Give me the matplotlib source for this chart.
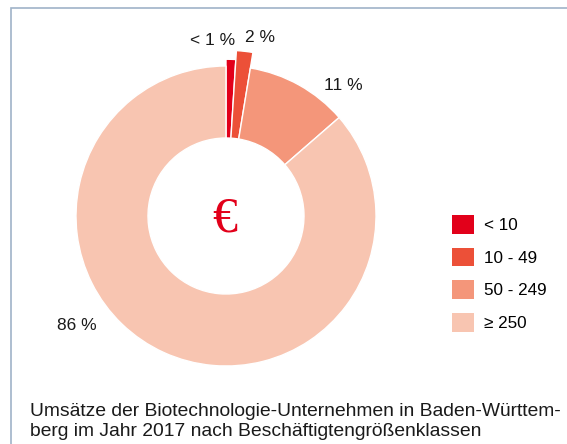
import matplotlib.pyplot as plt
from matplotlib.patches import Patch, Rectangle

# Umsatzanteile nach Beschäftigtengrößenklassen (%)
classes = ['< 10', '10 - 49', '50 - 249', '≥ 250']
shares = [1.0, 1.6, 11.0, 86.4]
share_labels = ['< 1 %', '2 %', '11 %', '86 %']
colors = ['#e2001a', '#ec5038', '#f4967a', '#f8c5b1']

caption = ('Umsätze der Biotechnologie-Unternehmen in Baden-Württem-\n'
           'berg im Jahr 2017 nach Beschäftigtengrößenklassen')

plt.rcParams['font.family'] = ['Liberation Sans', 'DejaVu Sans']

fig = plt.figure(figsize=(5.67, 4.44), dpi=100)

# frame line (left + top)
fig.patches.append(Rectangle((11 / 567, -0.1), 1.2, (444 - 8) / 444 + 0.1,
                             transform=fig.transFigure, fill=False,
                             edgecolor='#9fb3c8', linewidth=1.2))

ax = fig.add_axes([46 / 567, 48 / 444, 360 / 567, 360 / 444])
wedges, _ = ax.pie(shares, colors=colors, startangle=90, counterclock=False,
                   wedgeprops=dict(width=0.48, edgecolor='white', linewidth=1.0))
# the two small classes stick out a bit
inner = 0.52
for w, r in zip(wedges, [1.045, 1.105, 1.0, 1.0]):
    w.set_radius(r)
    w.set_width(r - inner)
ax.set_xlim(-1.2, 1.2)
ax.set_ylim(-1.2, 1.2)
ax.set_aspect('equal')
ax.axis('off')

label_pos = [(-0.087, 1.167), (0.227, 1.193), (0.78, 0.873), (-0.993, -0.733)]
for (x, y), t in zip(label_pos, share_labels):
    ax.text(x, y, t, ha='center', va='center', fontsize=12.5, color='#1a1a1a')

ax.text(-0.01, -0.02, '€', ha='center', va='center', fontsize=36, color='#e2001a',
        family=['Liberation Serif', 'DejaVu Serif'])

handles = [Patch(facecolor=c, edgecolor='none') for c in colors]
fig.legend(handles, classes, loc='upper left',
           bbox_to_anchor=(452 / 567, (444 - 215) / 444),
           frameon=False, fontsize=12.3, handlelength=1.3, handleheight=1.3,
           labelspacing=0.82, handletextpad=0.55, borderpad=0, borderaxespad=0)

fig.text(30 / 567, (444 - 421.5) / 444, caption, ha='left', va='center',
         fontsize=13.9, color='#1a1a1a', linespacing=1.27)

fig.savefig('out.png', dpi=100)
